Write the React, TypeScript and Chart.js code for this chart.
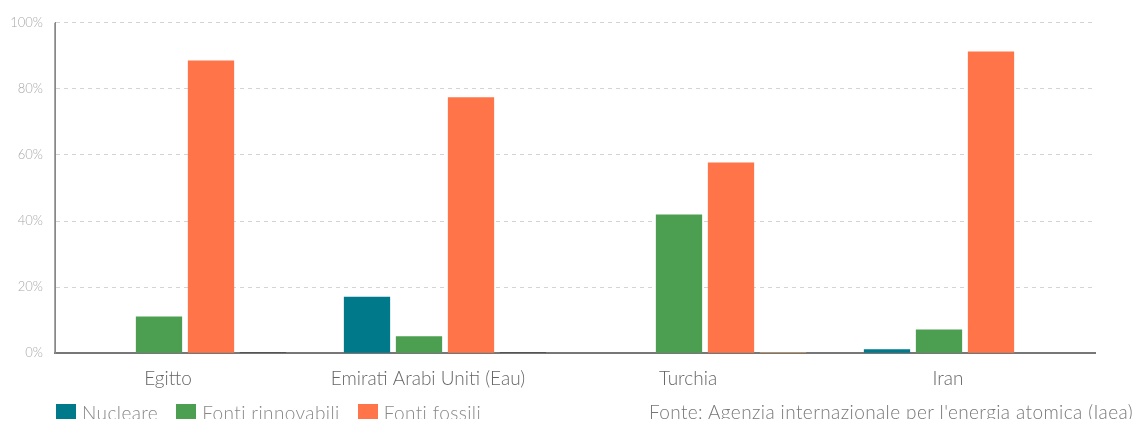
import React, { useEffect, useRef } from "react";
import Chart from "chart.js/auto";

const categories = ["Egitto", "Emirati Arabi Uniti (Eau)", "Turchia", "Iran"];
const seriesNames = ["Nucleare", "Fonti rinnovabili", "Fonti fossili"];
const seriesColors = ["#00798b", "#4c9f50", "#ff7549"];
const nucleare = [0, 17.1, 0, 1.2];
const rinnovabili = [11.1, 5.1, 42.0, 7.2];
const fossili = [88.6, 77.5, 57.7, 91.3];
const altro = [0.3, 0.3, 0.3, 0];
const altroColors = ["#333333", "#333333", "#f2b468", "#333333"];
const yTicks = [0, 20, 40, 60, 80, 100];
const sourceText = "Fonte: Agenzia internazionale per l'energia atomica (Iaea)";

const FONT = "Lato, 'Open Sans', sans-serif";

const solidYAxis = {
  id: "solidYAxis",
  afterDatasetsDraw(chart: any) {
    const { ctx, chartArea } = chart;
    ctx.save();
    ctx.strokeStyle = "#888";
    ctx.lineWidth = 1.5;
    ctx.setLineDash([]);
    ctx.beginPath();
    ctx.moveTo(chartArea.left, chartArea.top);
    ctx.lineTo(chartArea.left, chartArea.bottom);
    ctx.stroke();
    ctx.restore();
  },
};

export default function App() {
  const ref = useRef<HTMLCanvasElement | null>(null);
  useEffect(() => {
    document.documentElement.style.overflow = "hidden";
    if (!ref.current) return;
    const chart = new Chart(ref.current, {
      type: "bar",
      data: {
        labels: categories,
        datasets: [
          { label: seriesNames[0], data: nucleare, backgroundColor: seriesColors[0] },
          { label: seriesNames[1], data: rinnovabili, backgroundColor: seriesColors[1] },
          { label: seriesNames[2], data: fossili, backgroundColor: seriesColors[2] },
          { label: "Altro", data: altro, backgroundColor: altroColors },
        ],
      },
      plugins: [solidYAxis],
      options: {
        responsive: false,
        animation: false,
        maintainAspectRatio: false,
        layout: { padding: { top: 0, right: 38, left: 0, bottom: 0 } },
        datasets: { bar: { categoryPercentage: 0.8, barPercentage: 0.89 } },
        plugins: {
          tooltip: { enabled: false },
          legend: { display: false },
        },
        scales: {
          x: {
            grid: { display: false, drawTicks: false },
            border: { display: true, color: "#777", width: 2 },
            ticks: {
              color: "#666",
              padding: 14,
              labelOffset: -17,
              font: { family: FONT, size: 19, weight: "300" as any },
            },
          },
          y: {
            min: 0,
            max: 100,
            afterBuildTicks: (axis: any) => {
              axis.ticks = yTicks.map((v) => ({ value: v }));
            },
            afterFit: (axis: any) => {
              axis.width = 47;
            },
            grid: { color: "#d4d4d4", drawTicks: false } as any,
            border: { display: true, color: "#888", width: 1, dash: [4, 4] } as any,
            ticks: {
              color: "#a8a8a8",
              padding: 12,
              font: { family: FONT, size: 13, weight: "300" as any },
              callback: (v: any) => v + "%",
            },
          },
        },
      },
    });
    return () => chart.destroy();
  }, []);
  const textStyle: React.CSSProperties = {
    fontFamily: FONT,
    fontWeight: 300,
    fontSize: 19,
    letterSpacing: "0.4px",
    color: "#888",
    whiteSpace: "nowrap",
    lineHeight: "22px",
  };
  return (
    <div style={{ position: "relative", width: 1133, height: 416 }}>
      <canvas ref={ref} width={1125} height={401} style={{ display: "block", marginTop: -5 }} />
      <div style={{ position: "absolute", left: 48, top: 399, display: "flex", alignItems: "flex-start" }}>
        {seriesNames.map((n, i) => (
          <div key={n} style={{ display: "flex", alignItems: "flex-start", marginRight: 18 }}>
            <span
              style={{ display: "inline-block", width: 20, height: 20, background: seriesColors[i], marginRight: 6, marginTop: 2 }}
            />
            <span style={textStyle}>{n}</span>
          </div>
        ))}
      </div>
      <div style={{ position: "absolute", right: 8, top: 398, ...textStyle, color: "#777" }}>{sourceText}</div>
    </div>
  );
}
